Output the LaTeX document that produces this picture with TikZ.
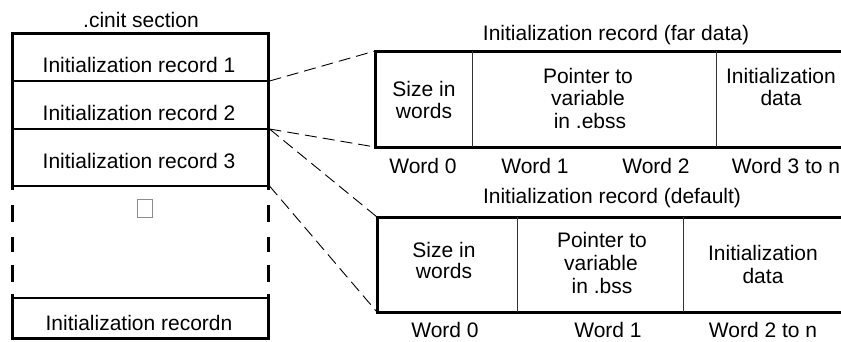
\documentclass[tikz,border=0pt]{standalone}
\usepackage{fontspec}
\setmainfont{Liberation Sans}
\begin{document}
\begin{tikzpicture}[x=1pt,y=-1pt,
  txt/.style={inner sep=0pt, anchor=base, font=\fontsize{21}{25}\selectfont},
  heavy/.style={line width=3pt},
  rulel/.style={line width=1.3pt},
  divl/.style={line width=1pt, black!80},
  link/.style={line width=0.9pt, dash pattern=on 12pt off 6pt}]
\useasboundingbox (0,0) rectangle (841,341);
\clip (0,0) rectangle (841,341);

% ---- .cinit section (left column)
\draw[heavy] (12,186) -- (12,33) -- (268,33) -- (268,186);
\draw[heavy] (12,298) -- (12,338) -- (268,338) -- (268,298);
\foreach \a/\b in {186/190,205/222,237/252,265/282,294/298}{
  \draw[heavy] (12,\a) -- (12,\b);
  \draw[heavy] (268,\a) -- (268,\b);
}
\foreach \y in {81,129,186,298}{
  \draw[rulel] (12,\y) -- (268,\y);
}
\node[txt] (cinit) at (141,27) {.cinit section};
\node[txt] (rec1) at (139,72) {Initialization record 1};
\node[txt] (rec2) at (139,120) {Initialization record 2};
\node[txt] (rec3) at (139,168) {Initialization record 3};
\node[txt] (recn) at (139,330) {Initialization recordn};
\node[draw=black!45, line width=0.7pt, minimum width=15pt, minimum height=18pt, inner sep=0pt] (glyph) at (145,208.5) {};

\coordinate (c81) at (269.5,81);
\coordinate (c129) at (269.5,129);
\coordinate (c186) at (269.5,186);

% ---- far data record
\draw[heavy] (850,51) -- (375,51) -- (375,147) -- (850,147);
\draw[divl] (472,51) -- (472,147);
\draw[divl] (716,51) -- (716,147);
\coordinate (farTL) at (375,51);
\coordinate (farBL) at (375,147);
\node[txt] (tfar) at (616,40) {Initialization record (far data)};
\node[txt] (fsize1) at (424,96) {Size in};
\node[txt] (fsize2) at (424,118) {words};
\node[txt] (fptr1) at (588,83) {Pointer to};
\node[txt] (fptr2) at (588,105) {variable};
\node[txt] (fptr3) at (590,128) {in .ebss};
\node[txt] (fdat1) at (781,83) {Initialization};
\node[txt] (fdat2) at (781,105) {data};
\node[txt] (fw0) at (423,173) {Word 0};
\node[txt] (fw1) at (535,173) {Word 1};
\node[txt] (fw2) at (656,173) {Word 2};
\node[txt] (fw3) at (786,173) {Word 3 to n};

% ---- default record
\draw[heavy] (850,217) -- (377,217) -- (377,312) -- (850,312);
\draw[divl] (517,217) -- (517,312);
\draw[divl] (683,217) -- (683,312);
\coordinate (defTL) at (377,217);
\coordinate (defBL) at (377,312);
\node[txt] (tdef) at (612,203) {Initialization record (default)};
\node[txt] (dsize1) at (444,257) {Size in};
\node[txt] (dsize2) at (444,278) {words};
\node[txt] (dptr1) at (602,247) {Pointer to};
\node[txt] (dptr2) at (601,270) {variable};
\node[txt] (dptr3) at (602,293) {in .bss};
\node[txt] (ddat1) at (763,260) {Initialization};
\node[txt] (ddat2) at (763,283) {data};
\node[txt] (dw0) at (445,337) {Word 0};
\node[txt] (dw1) at (608,337) {Word 1};
\node[txt] (dw2) at (763,337) {Word 2 to n};

% ---- dashed connectors
\draw[link] (c81) -- (farTL);
\draw[link] (c129) -- (farBL);
\draw[link] (c129) -- (defTL);
\draw[link] (c186) -- (defBL);
\end{tikzpicture}
\end{document}
